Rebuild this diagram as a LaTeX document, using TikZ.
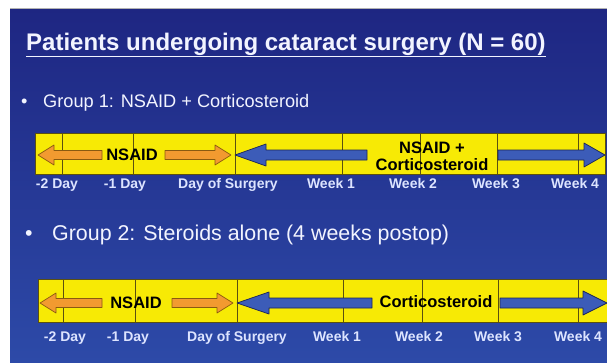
\documentclass[tikz,border=0pt]{standalone}
\usepackage{fontspec}
\setmainfont{Liberation Sans}
\definecolor{bgtop}{HTML}{1E2682}
\definecolor{bgbot}{HTML}{2D4AA8}
\definecolor{baryel}{HTML}{F7EA05}
\definecolor{barline}{HTML}{5A5010}
\definecolor{orfill}{HTML}{F29A30}
\definecolor{orline}{HTML}{8A5A10}
\definecolor{blfill}{HTML}{3C5CB8}
\definecolor{blline}{HTML}{1A2458}
\definecolor{txtw}{HTML}{F2F4FF}
\definecolor{lblw}{HTML}{DDE4FF}
\newcommand\fs[1]{\fontsize{#1}{#1}\selectfont}
\newcommand\fsb[2]{\fontsize{#1}{#2}\selectfont}
% left-pointing piece: tip x, flat end x, y, head length, shaft half, head half
\newcommand\larrow[6]{(#1,#3) -- ({#1+#4},{#3-#6}) -- ({#1+#4},{#3-#5}) -- (#2,{#3-#5}) -- (#2,{#3+#5}) -- ({#1+#4},{#3+#5}) -- ({#1+#4},{#3+#6}) -- cycle}
\newcommand\rarrow[6]{(#1,#3) -- ({#1-#4},{#3-#6}) -- ({#1-#4},{#3-#5}) -- (#2,{#3-#5}) -- (#2,{#3+#5}) -- ({#1-#4},{#3+#5}) -- ({#1-#4},{#3+#6}) -- cycle}
\tikzset{
  barbox/.style={fill=baryel,draw=barline,line width=0.9pt},
  tick/.style={draw=barline,line width=0.8pt},
  orarr/.style={fill=orfill,draw=orline,line width=0.7pt,line join=round},
  blarr/.style={fill=blfill,draw=blline,line width=0.7pt,line join=round},
  daylbl/.style={text=lblw,font=\fs{14}\bfseries,anchor=base,inner sep=0pt},
  inlbl/.style={text=black,font=\fs{16.5}\bfseries,inner sep=0pt,align=center},
  twolbl/.style={text=black,font={\fsb{16.5}{17}\bfseries},inner sep=0pt,align=center},
  bullet/.style={text=txtw,anchor=base west,inner sep=0pt},
}
\begin{document}
\begin{tikzpicture}[x=1pt,y=-1pt]
\useasboundingbox (0,0) rectangle (607,362);
\fill[white] (0,0) rectangle (607,362);
\shade[top color=bgtop,bottom color=bgbot] (10,8) rectangle (607,362);
\draw[gray!60,line width=0.6pt] (10,8) -- (607,8);
% title
\node[text=txtw,font=\fs{24}\bfseries,anchor=base west,inner sep=0pt] (title) at (26,50)
  {\underline{Patients undergoing cataract surgery (N = 60)}};
% bullets
\node[bullet,font=\fs{18.2}] (b1) at (21,107) {\textbullet};
\node[bullet,font=\fs{18.2}] (g1) at (43,107) {Group 1: NSAID + Corticosteroid};
\node[bullet,font=\fs{21.4}] (b2) at (25,240) {\textbullet};
\node[bullet,font=\fs{21.4}] (g2) at (52,240) {Group 2: Steroids alone (4 weeks postop)};
% ---------- bar 1 ----------
\draw[barbox] (35,133) rectangle (605,174);
\foreach \x in {62,133,235,342,420,497,578} \draw[tick] (\x,133) -- (\x,174);
\draw[orarr] \larrow{38}{102}{155}{16}{4.5}{10};
\draw[orarr] \rarrow{231}{165}{155}{16}{4.5}{10};
\node[inlbl] (n1) at (132,155) {NSAID};
\draw[blarr] \larrow{235}{367}{155}{31}{5}{11};
\draw[blarr] \rarrow{605}{498}{155}{21}{5}{12};
\node[twolbl] (c1) at (432,156) {NSAID +\\Corticosteroid};
\node[daylbl] (d1a) at (57,188) {-2 Day};
\node[daylbl] (d1b) at (125,188) {-1 Day};
\node[daylbl] (d1c) at (228,188) {Day of Surgery};
\node[daylbl] (d1d) at (331,188) {Week 1};
\node[daylbl] (d1e) at (413,188) {Week 2};
\node[daylbl] (d1f) at (496,188) {Week 3};
\node[daylbl] (d1g) at (575,188) {Week 4};
% ---------- bar 2 ----------
\draw[barbox] (38,279) rectangle (612,322);
\foreach \x in {63,135,237,343,422,498,578} \draw[tick] (\x,279) -- (\x,322);
\draw[orarr] \larrow{40}{102}{303}{16}{4.5}{10};
\draw[orarr] \rarrow{233}{172}{303}{16}{4.5}{10};
\node[inlbl] (n2) at (136,303) {NSAID};
\draw[blarr] \larrow{237}{372}{303}{32}{5}{11};
\draw[blarr] \rarrow{607}{500}{303}{24}{5}{12};
\node[inlbl] (c2) at (436,302) {Corticosteroid};
\node[daylbl] (d2a) at (65,341) {-2 Day};
\node[daylbl] (d2b) at (128,341) {-1 Day};
\node[daylbl] (d2c) at (237,341) {Day of Surgery};
\node[daylbl] (d2d) at (337,341) {Week 1};
\node[daylbl] (d2e) at (419,341) {Week 2};
\node[daylbl] (d2f) at (498,341) {Week 3};
\node[daylbl] (d2g) at (578,341) {Week 4};
\end{tikzpicture}
\end{document}
